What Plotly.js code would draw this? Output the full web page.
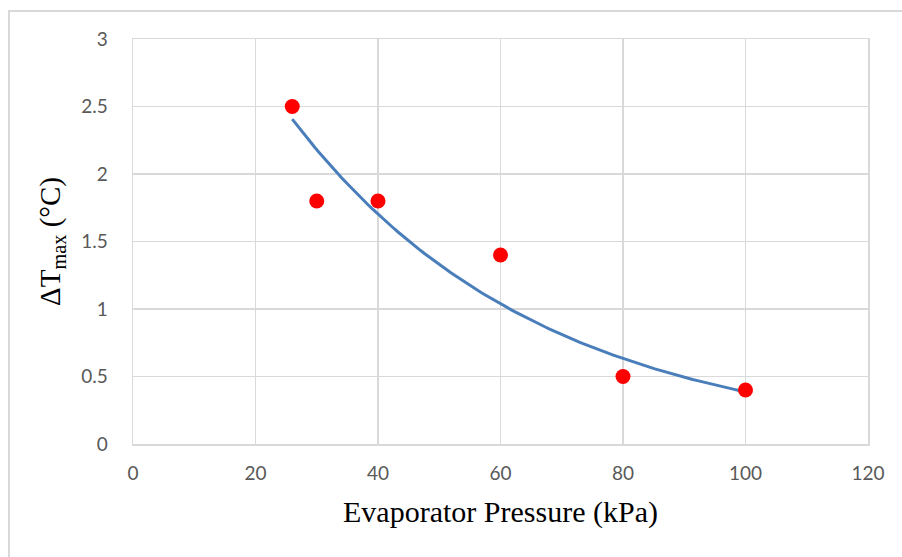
<!DOCTYPE html>
<html>
<head>
<meta charset="utf-8">
<script src="https://cdn.plot.ly/plotly-3.0.1.min.js"></script>
<style>
  html, body { margin: 0; padding: 0; background: #ffffff; }
  #chart { width: 902px; height: 557px; }
</style>
</head>
<body>
<div id="chart"></div>
<script>
// Data
const pressureKPa = [26, 30, 40, 60, 80, 100];
const deltaTmax   = [2.5, 1.8, 1.8, 1.4, 0.5, 0.4];
const xTicks = [0, 20, 40, 60, 80, 100, 120];
const yTicks = [0, 0.5, 1, 1.5, 2, 2.5, 3];
const yTickText = ['0', '0.5', '1', '1.5', '2', '2.5', '3'];

// Exponential trendline (least squares on ln y, as a spreadsheet trendline does)
function expFit(xs, ys) {
  const n = xs.length;
  const ly = ys.map(v => Math.log(v));
  const mx = xs.reduce((a, b) => a + b, 0) / n;
  const my = ly.reduce((a, b) => a + b, 0) / n;
  let sxx = 0, sxy = 0;
  for (let i = 0; i < n; i++) {
    sxx += (xs[i] - mx) * (xs[i] - mx);
    sxy += (xs[i] - mx) * (ly[i] - my);
  }
  const b = sxy / sxx;
  const a = Math.exp(my - b * mx);
  return { a, b };
}
const fit = expFit(pressureKPa, deltaTmax);
const xMin = Math.min(...pressureKPa), xMax = Math.max(...pressureKPa);
const trendX = [], trendY = [];
const steps = 120;
for (let i = 0; i <= steps; i++) {
  const x = xMin + (xMax - xMin) * i / steps;
  trendX.push(x);
  trendY.push(fit.a * Math.exp(fit.b * x));
}

const traces = [
  {
    x: trendX, y: trendY, type: 'scatter', mode: 'lines',
    line: { color: '#4a7ebb', width: 3 },
    hoverinfo: 'skip', showlegend: false
  },
  {
    x: pressureKPa, y: deltaTmax, type: 'scatter', mode: 'markers',
    marker: { color: '#ff0000', size: 15 },
    showlegend: false
  }
];

const tickFont = { family: 'Lato, Open Sans, sans-serif', size: 19, color: '#595959' };
const xTitleFont = { family: 'Liberation Serif, Times New Roman, serif', size: 30, color: '#000000' };
const yTitleFont = { family: 'Liberation Serif, Times New Roman, serif', size: 29, color: '#000000' };

const layout = {
  width: 902, height: 557,
  margin: { l: 133, r: 34, t: 39, b: 113 },
  paper_bgcolor: '#ffffff', plot_bgcolor: '#ffffff',
  showlegend: false,
  xaxis: {
    range: [0, 120], tickvals: xTicks, ticktext: xTicks.map(String),
    showgrid: true, gridcolor: '#d9d9d9', gridwidth: 1.5,
    zeroline: false, showline: true, linecolor: '#d9d9d9', linewidth: 1.5, mirror: true,
    ticks: 'outside', ticklen: 12, tickcolor: 'rgba(0,0,0,0)',
    tickfont: tickFont,
    title: { text: 'Evaporator Pressure (kPa)', font: xTitleFont, standoff: 17 }
  },
  yaxis: {
    range: [0, 3], tickvals: yTicks, ticktext: yTickText,
    showgrid: true, gridcolor: '#d9d9d9', gridwidth: 1.5,
    zeroline: false, showline: true, linecolor: '#d9d9d9', linewidth: 1.5, mirror: true,
    ticks: 'outside', ticklen: 20, tickcolor: 'rgba(0,0,0,0)',
    tickfont: tickFont,
    title: { text: 'ΔT<sub>max</sub> (°C)', font: yTitleFont, standoff: 12 }
  },
  shapes: [
    {
      type: 'rect', xref: 'paper', yref: 'paper',
      x0: -0.1687, x1: 1.2, y0: -0.5, y1: 1.069,
      line: { color: '#d9d9d9', width: 2 }, fillcolor: 'rgba(0,0,0,0)', layer: 'below'
    }
  ]
};

Plotly.newPlot('chart', traces, layout, { staticPlot: true, displayModeBar: false });
</script>
</body>
</html>
